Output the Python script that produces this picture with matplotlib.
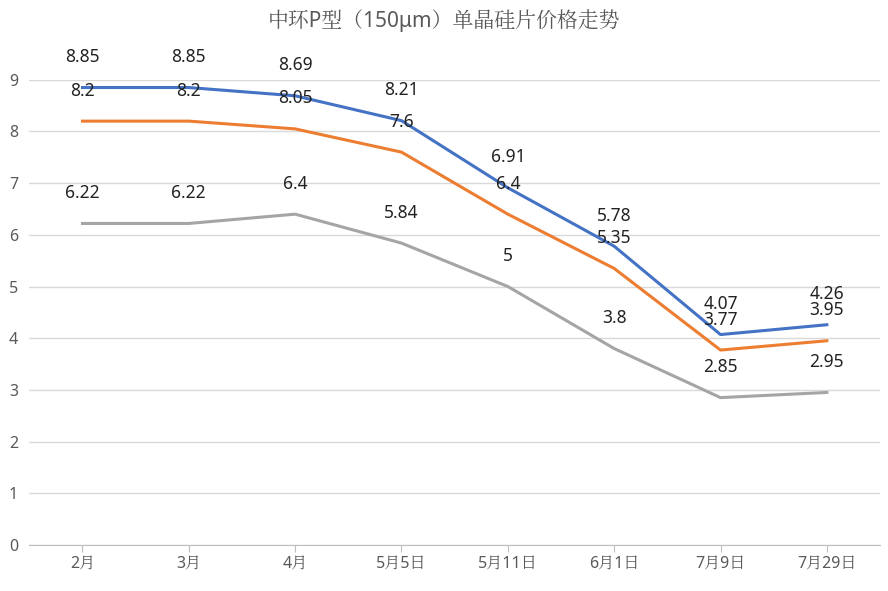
import matplotlib.pyplot as plt
from matplotlib import font_manager

cjk = [f.name for f in font_manager.fontManager.ttflist if 'CJK' in f.name]
plt.rcParams['font.family'] = ['Noto Sans'] + (cjk[:1] if cjk else []) + ['DejaVu Sans']

categories = ['2月', '3月', '4月', '5月5日', '5月11日', '6月1日', '7月9日', '7月29日']
high = [8.85, 8.85, 8.69, 8.21, 6.91, 5.78, 4.07, 4.26]
mid = [8.2, 8.2, 8.05, 7.6, 6.4, 5.35, 3.77, 3.95]
low = [6.22, 6.22, 6.4, 5.84, 5, 3.8, 2.85, 2.95]

fig = plt.figure(figsize=(8.88, 5.91), dpi=100)
ax = fig.add_axes([0.033, 0.078, 0.958, 0.787])
x = range(len(categories))
for vals, c in [(high, '#4472C4'), (mid, '#ED7D31'), (low, '#A5A5A5')]:
    ax.plot(x, vals, color=c, lw=2.2)
    for i, v in enumerate(vals):
        ax.annotate(f'{v:g}', (i, v), xytext=(0, 22), textcoords='offset points',
                    ha='center', va='center', fontsize=12.5, color='#222222',
                    annotation_clip=False)

ax.set_xlim(-0.5, 7.5)
ax.set_ylim(0, 9)
ax.set_yticks(range(10))
ax.set_xticks(list(x))
ax.set_xticklabels(categories)
ax.grid(axis='y', color='#d9d9d9', lw=1)
ax.set_axisbelow(True)
for s in ['top', 'right', 'left']:
    ax.spines[s].set_visible(False)
ax.spines['bottom'].set_color('#bfbfbf')
ax.tick_params(colors='#595959', labelsize=11.5, length=0)
ax.tick_params(axis='x', length=5, color='#bfbfbf')
ax.tick_params(axis='y', pad=8)
fig.text(0.5, 0.965, '中环P型（150μm）单晶硅片价格走势', ha='center', va='center',
         fontsize=15, color='#595959')
fig.savefig('out.png')
